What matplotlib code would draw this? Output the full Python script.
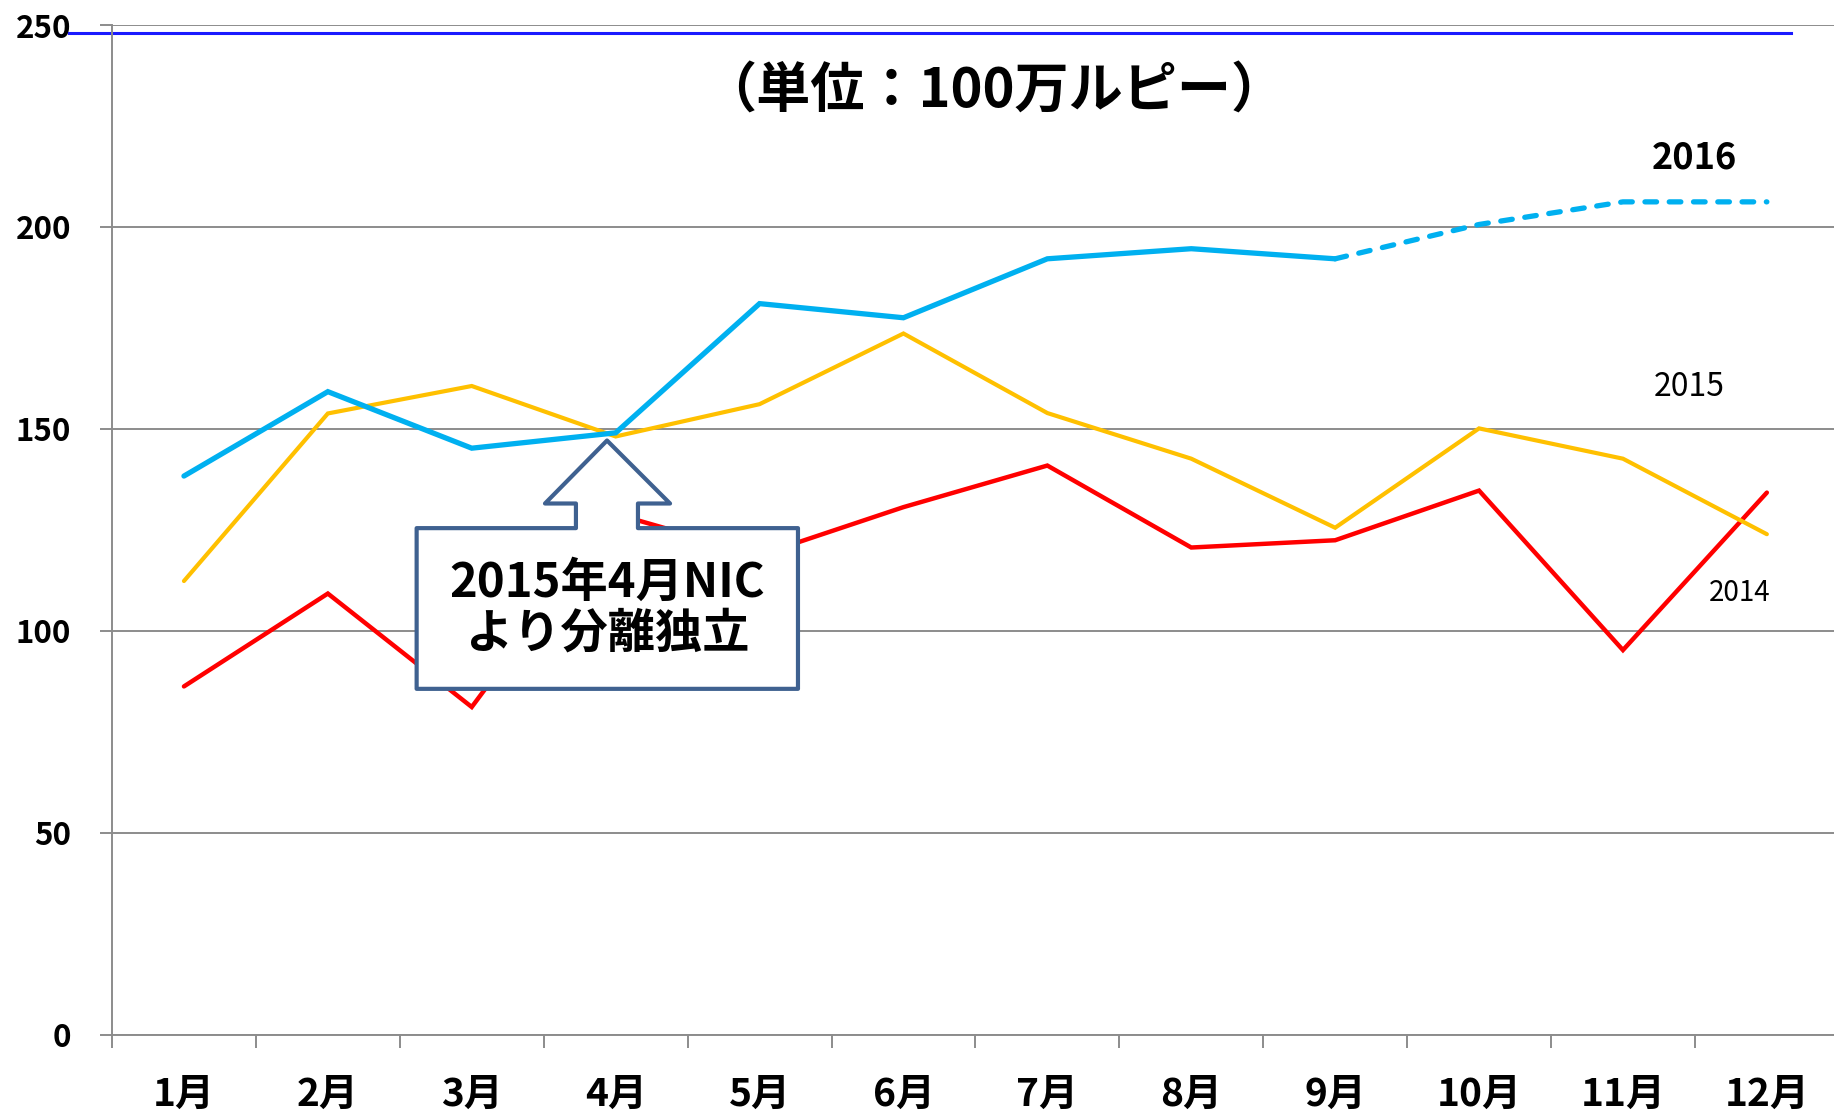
import matplotlib
matplotlib.use("Agg")
import matplotlib.pyplot as plt
from matplotlib.patches import Polygon

plt.rcParams['font.family'] = ['Noto Sans CJK JP', 'DejaVu Sans']

# data (million rupees)
months = ['1月', '2月', '3月', '4月', '5月', '6月', '7月', '8月', '9月', '10月', '11月', '12月']
sales_2014 = [86.2, 109.2, 81.1, 128.9, 118.7, 130.6, 140.9, 120.6, 122.4, 134.7, 95.2, 134.2]
sales_2015 = [112.3, 153.8, 160.6, 148.1, 156.1, 173.6, 153.9, 142.6, 125.5, 150.1, 142.6, 123.9]
sales_2016 = [138.3, 159.2, 145.2, 149.0, 181.0, 177.5, 192.1, 194.6, 192.1, 200.6, 206.2, 206.2]
n_actual_2016 = 9          # Jan..Sep actual, rest forecast (dashed)
yticks = [0, 50, 100, 150, 200, 250]
ref_level = 248.0          # blue reference line near the top

W, H = 1834, 1111
fig = plt.figure(figsize=(W / 100, H / 100), dpi=100)
ax_left, ax_bottom, ax_top = 112 / W, (H - 1034.5) / H, (H - 25) / H
ax = fig.add_axes([ax_left, ax_bottom, 1 - ax_left, ax_top - ax_bottom])

x = list(range(1, 13))
grid_c = '#8c8c8c'

ax.plot(x, sales_2014, color='#FF0000', lw=3.2, solid_capstyle='round', solid_joinstyle='miter', zorder=3)
ax.plot(x, sales_2015, color='#FFC000', lw=3.0, solid_capstyle='round', solid_joinstyle='miter', zorder=3)
k = n_actual_2016
ax.plot(x[:k], sales_2016[:k], color='#00B0F0', lw=3.8, solid_capstyle='round', solid_joinstyle='miter', zorder=4)
ax.plot(x[k - 1:], sales_2016[k - 1:], color='#00B0F0', lw=3.8, linestyle=(0, (2.2, 2.4)),
        dash_capstyle='round', zorder=4)

# blue line just under the 250 gridline, sticking out left of the axis
ax.plot([0.2, 12.17], [ref_level, ref_level], color='#1a1aff', lw=2.2, clip_on=False, zorder=2)

ax.set_xlim(0.5, 0.5 + (W - 112) / 143.9)
ax.set_ylim(0, 250)
ax.set_yticks(yticks)
ax.set_yticklabels([str(v) for v in yticks], fontsize=22.5, fontweight='bold')
ax.set_xticks(x)
ax.set_xticklabels(months, fontsize=28, fontweight='bold')
ax.set_xticks([i + 0.5 for i in range(0, 12)], minor=True)
ax.tick_params(axis='x', which='major', length=0, pad=29)
ax.tick_params(axis='x', which='minor', length=9.4, width=1.4, color=grid_c, direction='out')
ax.tick_params(axis='y', length=8.6, width=1.4, color=grid_c, direction='out', pad=21)

ax.grid(axis='y', color=grid_c, lw=1.4)
ax.set_axisbelow(True)
for s in ['top', 'right']:
    ax.spines[s].set_visible(False)
for s in ['left', 'bottom']:
    ax.spines[s].set_color(grid_c)
    ax.spines[s].set_linewidth(1.4)

fig.text(994 / W, 1 - 92 / H, '（単位：100万ルピー）', fontsize=39, fontweight='bold',
         ha='center', va='center')

ax.text(11.50, 217.1, '2016', fontsize=26, fontweight='bold', ha='center', va='center')
ax.text(11.46, 160.4, '2015', fontsize=23, ha='center', va='center')
ax.text(11.81, 109.3, '2014', fontsize=20, ha='center', va='center')

# up-arrow callout pointing at April
bl, br, bt, bb = 2.617, 5.267, 125.4, 85.6
sl, sr, hy = 3.724, 4.155, 131.5
hl, hr, tx, ty = 3.509, 4.378, 3.940, 147.1
verts = [(bl, bb), (bl, bt), (sl, bt), (sl, hy), (hl, hy), (tx, ty), (hr, hy),
         (sr, hy), (sr, bt), (br, bt), (br, bb)]
ax.add_patch(Polygon(verts, closed=True, facecolor='white', edgecolor='#3F6190',
                     lw=3, joinstyle='round', zorder=5))
ax.text((bl + br) / 2, 105.6, '2015年4月NIC\nより分離独立', fontsize=34, fontweight='bold',
        ha='center', va='center', linespacing=1.05, zorder=6)

fig.savefig('out.png', dpi=100)
